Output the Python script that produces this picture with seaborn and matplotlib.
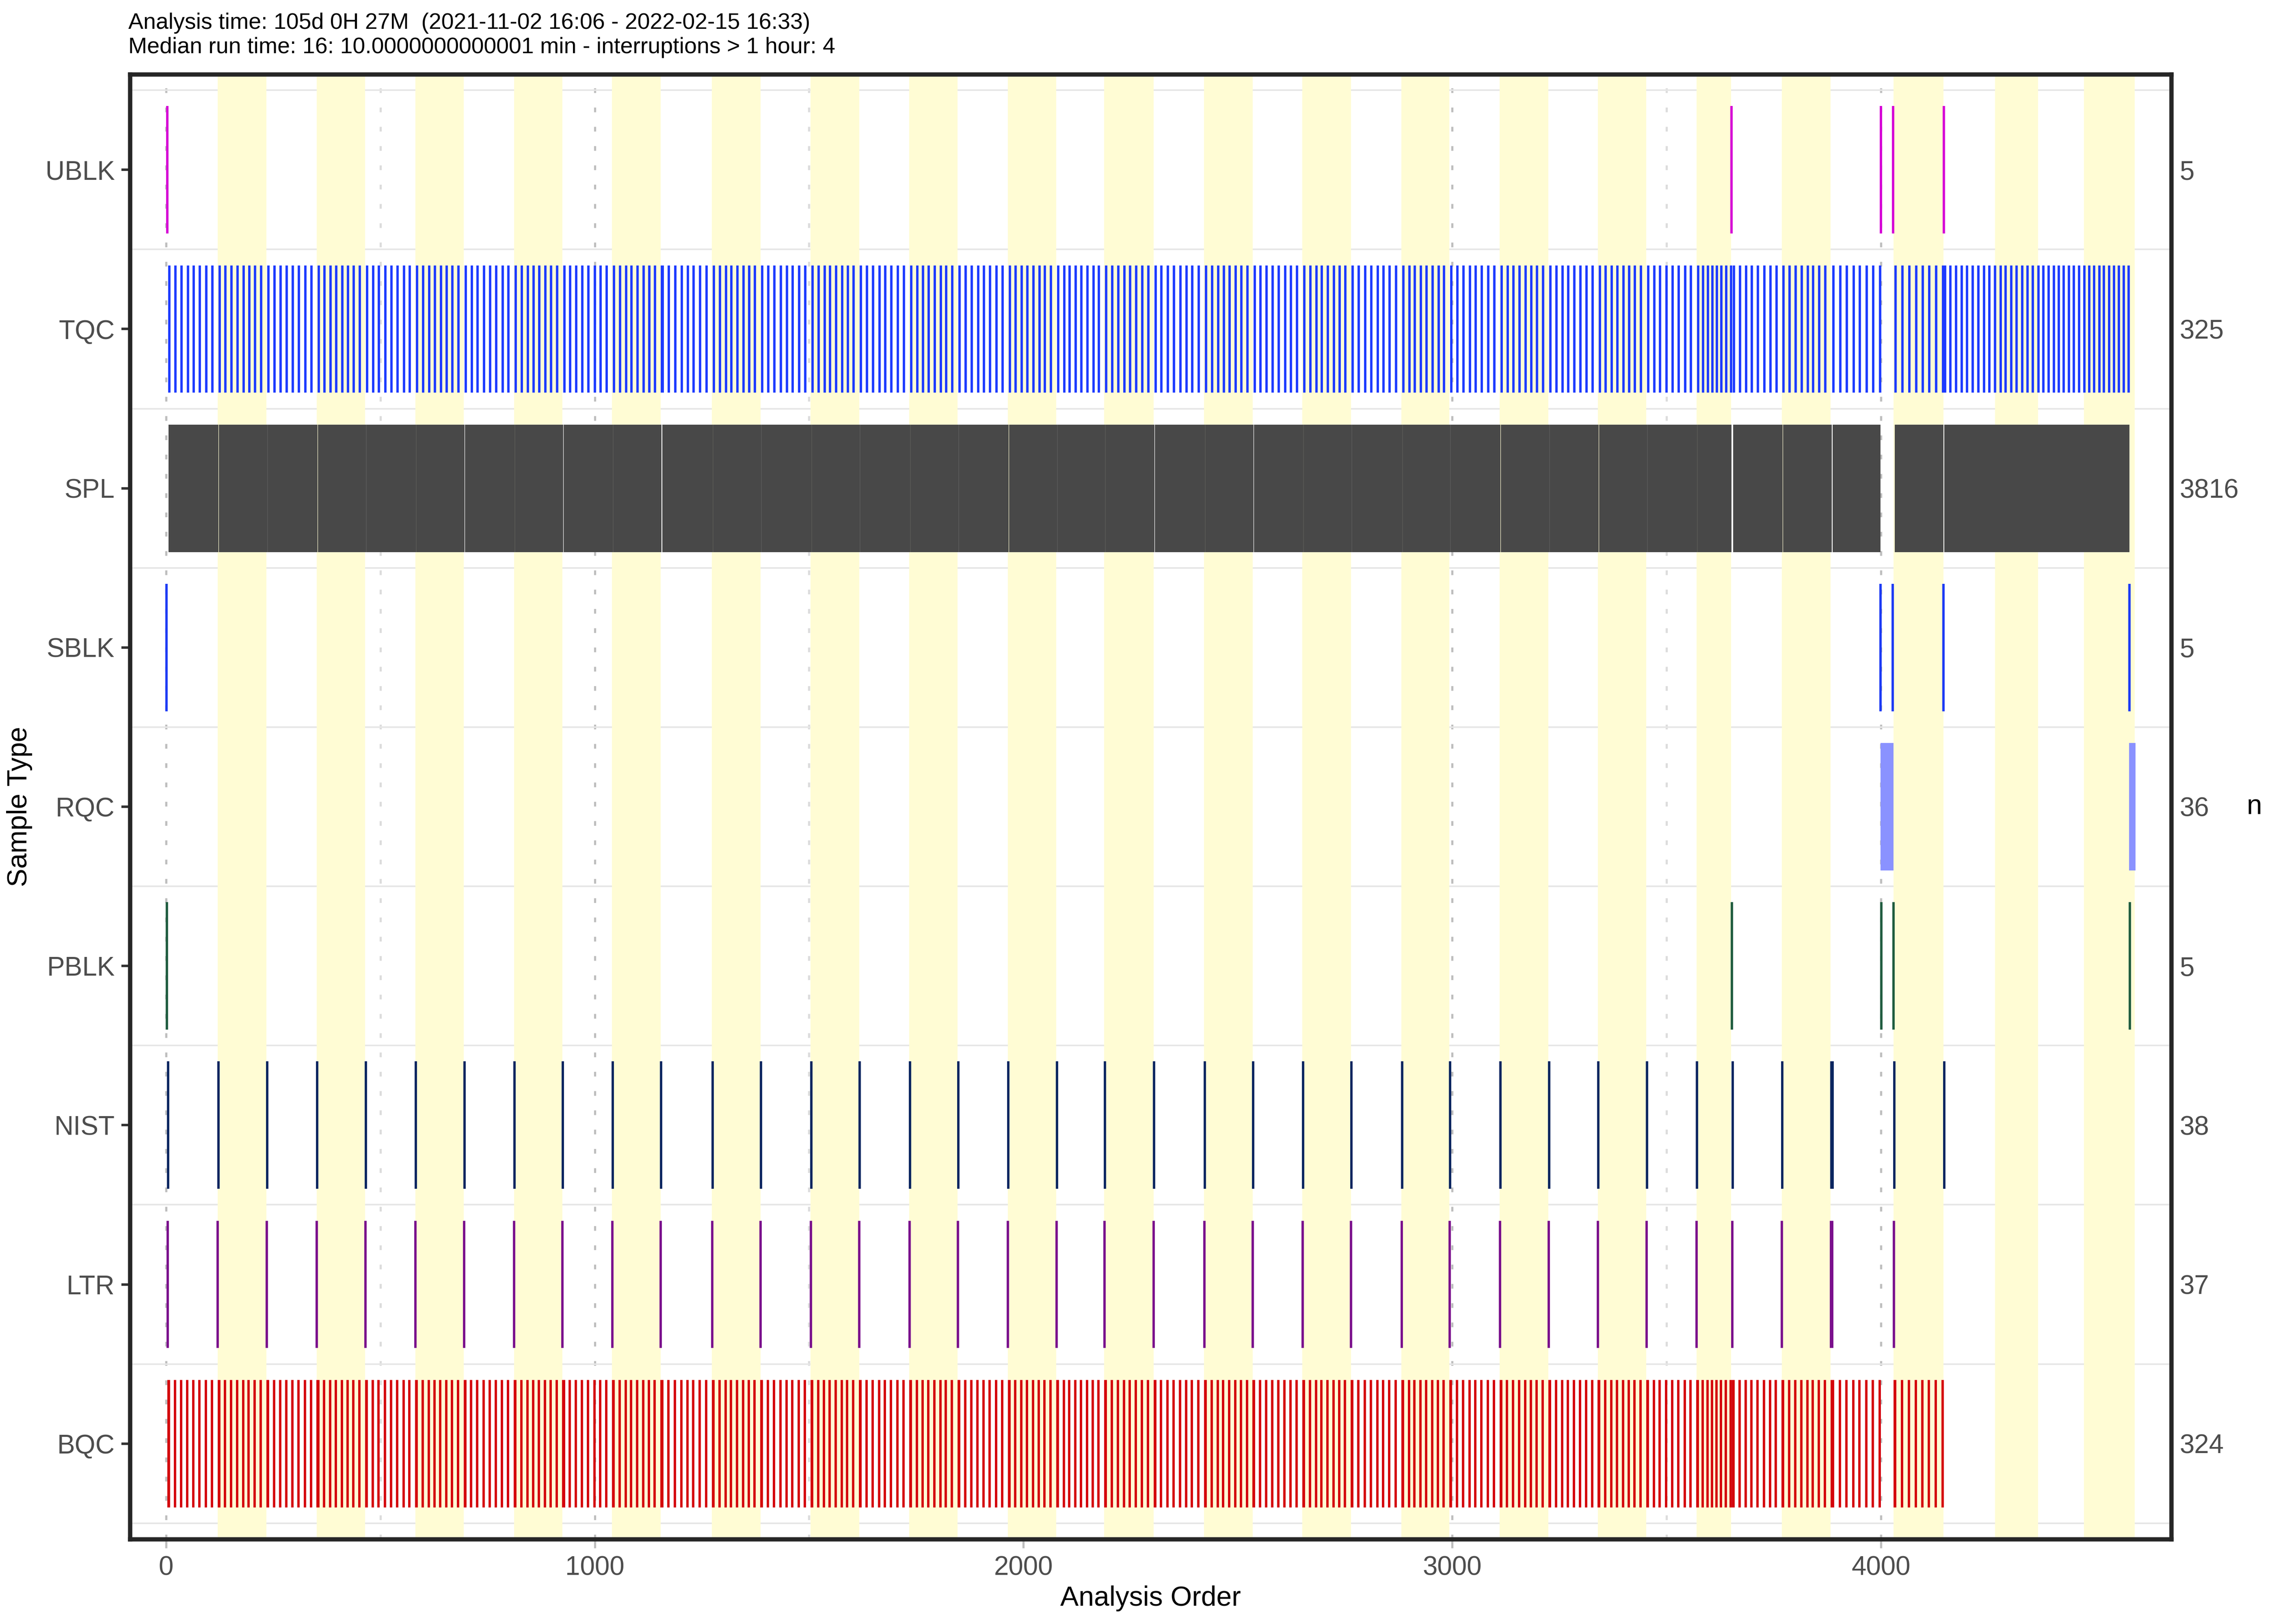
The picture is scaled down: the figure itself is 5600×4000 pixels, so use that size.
import numpy as np
import pandas as pd
import matplotlib
matplotlib.use("Agg")
import matplotlib.pyplot as plt
import seaborn as sns

# ------------------------------------------------------------------ data
# sample types, bottom -> top of the y axis
sample_types = ["BQC", "LTR", "NIST", "PBLK", "RQC", "SBLK", "SPL", "TQC", "UBLK"]
type_colors = {
    "BQC": "#D4000A", "LTR": "#7A0F8C", "NIST": "#0A2560", "PBLK": "#1F5C3F",
    "RQC": "#8A92FF", "SBLK": "#1C3AF5", "SPL": "#484848", "TQC": "#1C3AFF",
    "UBLK": "#D600D6",
}

total_runs = 4591
# first injection of each batch (analysis order)
batch_starts = [1, 121, 235, 352, 465, 582, 695, 812, 925, 1041,
                1154, 1274, 1387, 1504, 1617, 1734, 1847, 1964, 2077, 2189,
                2304, 2422, 2535, 2651, 2764, 2882, 2994, 3111, 3225, 3340,
                3453, 3570, 3651, 3769, 3883, 4030, 4146, 4266, 4367, 4474]
default_head = ["LTR", "NIST", "BQC"]
batch_heads = {
    0: ["SBLK", "PBLK", "UBLK", "LTR", "NIST", "BQC"],
    10: ["LTR", "NIST", "BQC", "TQC"],
    32: ["UBLK", "PBLK", "LTR", "NIST", "BQC"],
    34: ["LTR", "NIST", "BQC", "LTR", "NIST"],
    36: ["SBLK", "UBLK", "NIST"],
    37: [], 38: [], 39: [],
}
batch_tails = {
    31: ["BQC", "TQC"],
    34: ["BQC", "TQC", "SBLK", "UBLK", "PBLK"] + ["RQC"] * 25 + ["SBLK", "UBLK", "PBLK"],
    35: ["BQC", "TQC"],
    39: ["TQC", "SBLK", "PBLK"] + ["RQC"] * 11,
}
qc_unit_full = ["BQC", "TQC"]
qc_unit_late = ["TQC"]
default_qc_count = 8
batch_qc_counts = {31: 7, 34: 7, 35: 7, 36: 9, 37: 8, 38: 9, 39: 9}
expected_n = {"BQC": 324, "LTR": 37, "NIST": 38, "PBLK": 5, "RQC": 36,
              "SBLK": 5, "SPL": 3816, "TQC": 325, "UBLK": 5}

title_line1 = "Analysis time: 105d 0H 27M  (2021-11-02 16:06 - 2022-02-15 16:33)"
title_line2 = "Median run time: 16: 10.0000000000001 min - interruptions > 1 hour: 4"
x_ticks = [0, 1000, 2000, 3000, 4000]
x_minor = [500, 1500, 2500, 3500, 4500]

# ------------------------------------------------------------------ build run order
def build_batch(length, head, tail, unit, n_units):
    body = length - len(head) - len(tail)
    tokens = ["SPL"] * body
    for k in range(n_units):
        p = int(round(k * body / n_units))
        tokens[p:p + len(unit)] = unit
    return head + tokens + tail

batch_ends = batch_starts[1:] + [total_runs + 1]
seq = []
batch_id = []
for b, (s, e) in enumerate(zip(batch_starts, batch_ends)):
    head = batch_heads.get(b, default_head)
    tail = batch_tails.get(b, [])
    unit = qc_unit_full if b < 36 else qc_unit_late
    n_units = batch_qc_counts.get(b, default_qc_count)
    toks = build_batch(e - s, head, tail, unit, n_units)
    seq += toks
    batch_id += [b] * len(toks)

df = pd.DataFrame({"order": np.arange(1, len(seq) + 1), "type": seq, "batch": batch_id})
counts = df["type"].value_counts()
for t, n in expected_n.items():
    assert counts.get(t, 0) == n, f"{t}: {counts.get(t, 0)} != {n}"
ycode = {t: i for i, t in enumerate(sample_types)}
df["y"] = df["type"].map(ycode)

# ------------------------------------------------------------------ plot
plt.rcParams["font.family"] = ["Liberation Sans", "DejaVu Sans"]
W, H = 5600, 4000
fig = plt.figure(figsize=(14, 10), dpi=400)
ax_l, ax_r, ax_t, ax_b = 320, 5347, 183, 3791
ax = fig.add_axes([ax_l / W, 1 - ax_b / H, (ax_r - ax_l) / W, (ax_b - ax_t) / H])
ax.set_facecolor("white")

# alternating batch bands
for b, (s, e) in enumerate(zip(batch_starts, batch_ends)):
    if b % 2 == 1:
        ax.axvspan(s - 0.5, e - 0.5, color="#FFFCD4", lw=0, zorder=1)

sns.scatterplot(data=df, x="order", y="y", hue="type", palette=type_colors,
                marker="|", s=3189, linewidth=1.05, edgecolor=None,
                legend=False, ax=ax, zorder=3)

ax.set_xlim(-84, 4677)
ax.set_ylim(-0.6, 8.6)
ax.set_xticks(x_ticks)
ax.set_xticks(x_minor, minor=True)
ax.set_yticks(range(len(sample_types)))
ax.set_yticklabels(sample_types)
ax.set_yticks(np.arange(-0.5, len(sample_types), 1.0), minor=True)

ax.set_axisbelow(True)
dotted = (0, (2.2, 6.8))
ax.xaxis.grid(True, which="major", color="#BEBEBE", lw=0.95, ls=dotted)
ax.xaxis.grid(True, which="minor", color="#DCDCDC", lw=0.95, ls=dotted)
ax.yaxis.grid(False, which="major")
ax.yaxis.grid(True, which="minor", color="#E6E6E6", lw=0.7, ls="-")

ax.tick_params(axis="y", which="major", length=3.8, width=1.1, color="#333333",
               pad=2.9, labelsize=11.8, labelcolor="#4D4D4D")
ax.tick_params(axis="x", which="major", length=4.0, width=0.95, color="#BEBEBE",
               pad=3.2, labelsize=11.8, labelcolor="#4D4D4D")
ax.tick_params(which="minor", length=0)
for sp in ax.spines.values():
    sp.set_color("#262626")
    sp.set_linewidth(1.9)

ax.set_xlabel("Analysis Order", fontsize=12.2, color="black")
ax.set_ylabel("Sample Type", fontsize=12.2, color="black")
ax.xaxis.set_label_coords(0.5, -(3905 - ax_b) / (ax_b - ax_t))
ax.yaxis.set_label_coords((80 - ax_l) / (ax_r - ax_l), 0.5)

# right axis: counts
ax2 = ax.twinx()
ax2.set_ylim(ax.get_ylim())
ax2.set_yticks(range(len(sample_types)))
ax2.set_yticklabels([str(counts[t]) for t in sample_types])
ax2.tick_params(axis="y", length=0, pad=3.6, labelsize=11.8, labelcolor="#4D4D4D")
for sp in ax2.spines.values():
    sp.set_visible(False)
ax2.set_ylabel("n", fontsize=12.2, color="black")
ax2.yaxis.label.set_rotation(0)
ax2.yaxis.label.set_ha("left")
ax2.yaxis.label.set_va("center")
ax2.yaxis.set_label_coords((5532 - ax_l) / (ax_r - ax_l), 0.5)

fig.text(316 / W, 1 - 71 / H, title_line1, ha="left", va="baseline", fontsize=10, color="black")
fig.text(316 / W, 1 - 131 / H, title_line2, ha="left", va="baseline", fontsize=10, color="black")

fig.savefig("out.png", dpi=400)
